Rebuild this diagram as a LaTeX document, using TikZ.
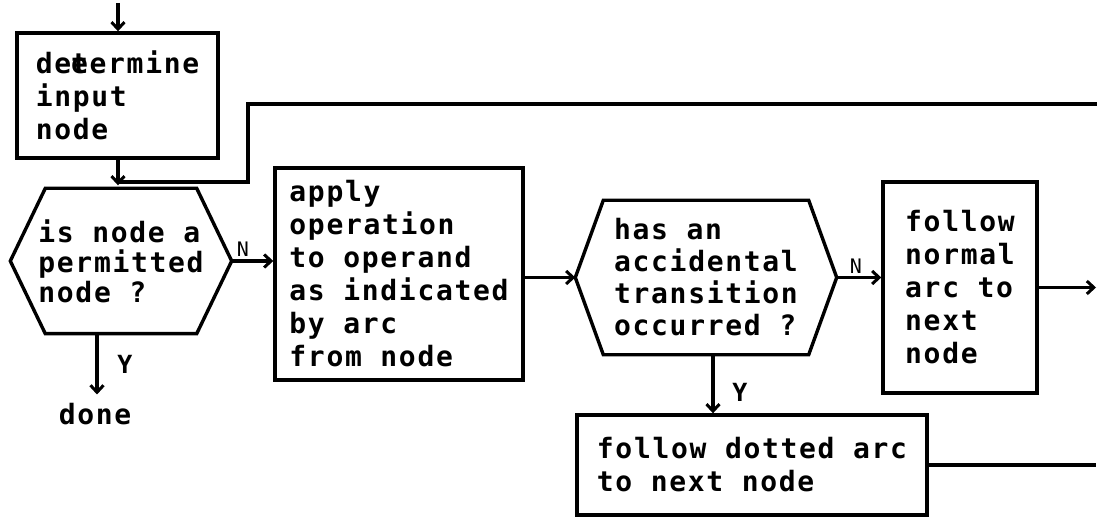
\documentclass[tikz,border=0pt]{standalone}
\usepackage{fontspec}
\newfontfamily\tw[LetterSpace=6]{DejaVu Sans Mono}
\usetikzlibrary{arrows.meta,calc}
\begin{document}
\begin{tikzpicture}[x=1pt,y=-1pt, line width=3.4pt,
  every node/.style={font=\tw\bfseries\fontsize{28}{33}\selectfont},
  box/.style={draw, rectangle, align=left, inner sep=0pt},
  hexbody/.style={rectangle, inner sep=0pt},
  hextext/.style={align=left, inner sep=0pt},
  arr/.style={-{Straight Barb[length=7pt,width=13pt,line width=3pt]}},
  lblN/.style={font=\tw\fontsize{20}{24}\selectfont, inner sep=0pt},
  lblY/.style={font=\tw\bfseries\fontsize{25}{28}\selectfont, inner sep=0pt}
]
\useasboundingbox (0,0) rectangle (1097,518);

% boxes
\node[box, minimum width=201pt, minimum height=125pt] (det) at (117.5,95.5) {de\rlap{t}eermine\\input\\node};
\node[box, minimum width=248pt, minimum height=212pt] (box2) at (399,274) {apply\\operation\\to operand\\as indicated\\by arc\\from node};
\node[box, minimum width=154pt, minimum height=211pt] (box3) at (960,287.5) {follow\\normal\\arc to\\next\\node};
\node[box, minimum width=350pt, minimum height=100pt] (box4) at (752,465) {follow dotted arc\\to next node};

% hexagons
\node[hexbody, minimum width=148pt, minimum height=142pt] (hex1) at (121,261) {};
\node[hextext, font=\tw\bfseries\fontsize{28}{30}\selectfont] (hex1t) at (hex1) {is node a\\permitted\\node ?};
\draw (hex1.north west) -- (hex1.north east) -- ($(hex1.east)+(35,0)$) coordinate (hex1R)
  -- (hex1.south east) -- (hex1.south west) -- ($(hex1.west)+(-35,0)$) coordinate (hex1L) -- cycle;

\node[hexbody, minimum width=202pt, minimum height=151pt] (hex2) at (706,277.5) {};
\node[hextext, font=\tw\bfseries\fontsize{28}{32}\selectfont] (hex2t) at (hex2) {has an\\accidental\\transition\\occurred ?};
\draw (hex2.north west) -- (hex2.north east) -- ($(hex2.east)+(28,0)$) coordinate (hex2R)
  -- (hex2.south east) -- (hex2.south west) -- ($(hex2.west)+(-28,0)$) coordinate (hex2L) -- cycle;

% done
\node[inner sep=0pt] (done) at (95,414) {done};

% coordinates
\coordinate (start) at (118,3);
\coordinate (fbR) at (1097,104);
\coordinate (fbC) at (248,182);
\coordinate (y1) at (97,0);
\coordinate (x2) at (713,0);
\coordinate (out1) at (1096,0);

% connectors
\draw[arr] (start) -- (start |- det.north);
\draw[arr] (det.south -| start) -- ($(start |- hex1.north)+(0,-3)$);
\draw (fbR) -| (fbC) -- (fbC -| start);
\draw[arr] (hex1R) -- (hex1R -| box2.west);
\draw[arr, shorten >=7pt] (hex1.south -| y1) -- (y1 |- done.north);
\draw[arr] (box2.east |- hex2L) -- (hex2L);
\draw[arr] (hex2R) -- (hex2R -| box3.west);
\draw[arr] (box3.east) -- (box3.east -| out1);
\draw[arr] (hex2.south -| x2) -- (x2 |- box4.north);
\draw (box4.east) -- (box4.east -| out1);

% labels
\node[lblN] (n1) at (243,249) {N};
\node[lblY] (ya) at (125,364) {Y};
\node[lblN] (n2) at (856,266) {N};
\node[lblY] (yb) at (740,392) {Y};
\end{tikzpicture}
\end{document}
